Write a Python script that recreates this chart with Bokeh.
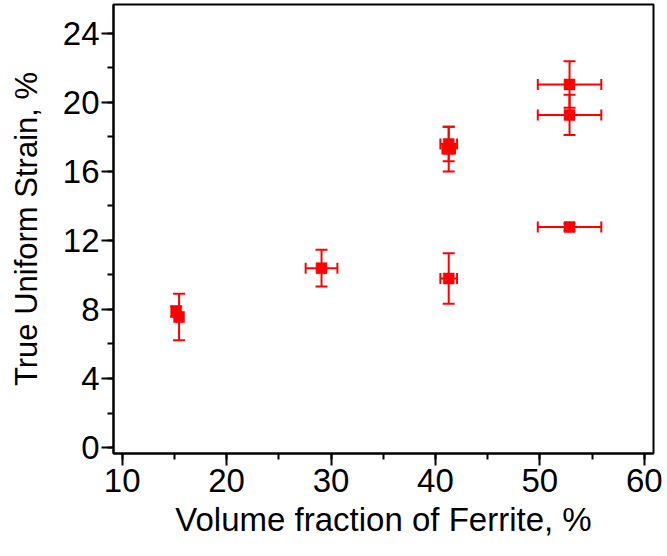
from bokeh.plotting import figure
from bokeh.models import ColumnDataSource, Whisker, TeeHead, SingleIntervalTicker, Range1d
from bokeh.embed import file_html
from bokeh.resources import INLINE

# Data
ferrite = [15.17, 15.45, 29.09, 41.27, 41.27, 41.27, 52.84, 52.84, 52.84]
strain = [7.88, 7.56, 10.39, 17.57, 17.28, 9.79, 21.02, 19.26, 12.77]
ferrite_err = [0.2, 0.2, 1.52, 0.8, 0.6, 0.8, 3.04, 3.04, 3.04]
strain_err = [0.3, 1.35, 1.07, 1.0, 1.3, 1.46, 1.35, 1.16, 0.2]

x_ticks = [10, 20, 30, 40, 50, 60]
y_ticks = [0, 4, 8, 12, 16, 20, 24]

src = ColumnDataSource(dict(
    x=ferrite, y=strain,
    xl=[a - b for a, b in zip(ferrite, ferrite_err)],
    xu=[a + b for a, b in zip(ferrite, ferrite_err)],
    yl=[a - b for a, b in zip(strain, strain_err)],
    yu=[a + b for a, b in zip(strain, strain_err)],
))

FONT = "Liberation Sans"
RED = "#ff0000"

p = figure(width=667, height=556, output_backend="svg", toolbar_location=None,
           x_range=Range1d(9.17, 60.88), y_range=Range1d(-0.34, 25.65))
p.min_border_left = 113
p.min_border_right = 14
p.min_border_top = 4
p.min_border_bottom = 103
p.background_fill_color = "white"
p.border_fill_color = "white"
p.grid.visible = False
p.outline_line_color = "black"
p.outline_line_width = 2

p.xaxis.ticker = SingleIntervalTicker(interval=10, num_minor_ticks=2)
p.yaxis.ticker = SingleIntervalTicker(interval=4, num_minor_ticks=2)
for ax in (p.xaxis, p.yaxis):
    ax.axis_line_width = 2
    ax.axis_line_color = "black"
    ax.major_tick_line_width = 2
    ax.minor_tick_line_width = 2
    ax.major_tick_out = 12
    ax.major_tick_in = 0
    ax.minor_tick_out = 6
    ax.minor_tick_in = 0
    ax.major_label_text_font = FONT
    ax.major_label_text_font_size = "33px"
    ax.major_label_text_color = "black"
    ax.axis_label_text_font = FONT
    ax.axis_label_text_font_style = "normal"
    ax.axis_label_text_color = "black"

p.xaxis.axis_label_text_font_size = "33px"
p.yaxis.axis_label_text_font_size = "31px"
p.xaxis.axis_label = "Volume fraction of Ferrite, %"
p.yaxis.axis_label = "True Uniform Strain, %"
p.xaxis.major_label_standoff = 3
p.yaxis.major_label_standoff = 2
p.xaxis.axis_label_standoff = 6
p.yaxis.axis_label_standoff = 16

yw = Whisker(source=src, base="x", lower="yl", upper="yu", dimension="height",
             line_color=RED, line_width=2,
             upper_head=TeeHead(size=12, line_color=RED, line_width=2),
             lower_head=TeeHead(size=12, line_color=RED, line_width=2))
xw = Whisker(source=src, base="y", lower="xl", upper="xu", dimension="width",
             line_color=RED, line_width=2,
             upper_head=TeeHead(size=11, line_color=RED, line_width=2),
             lower_head=TeeHead(size=11, line_color=RED, line_width=2))
p.add_layout(yw)
p.add_layout(xw)

p.scatter("x", "y", source=src, marker="square", size=11, fill_color=RED,
          line_color=RED, line_width=0.5)

open("out.html", "w").write(file_html(p, INLINE))
